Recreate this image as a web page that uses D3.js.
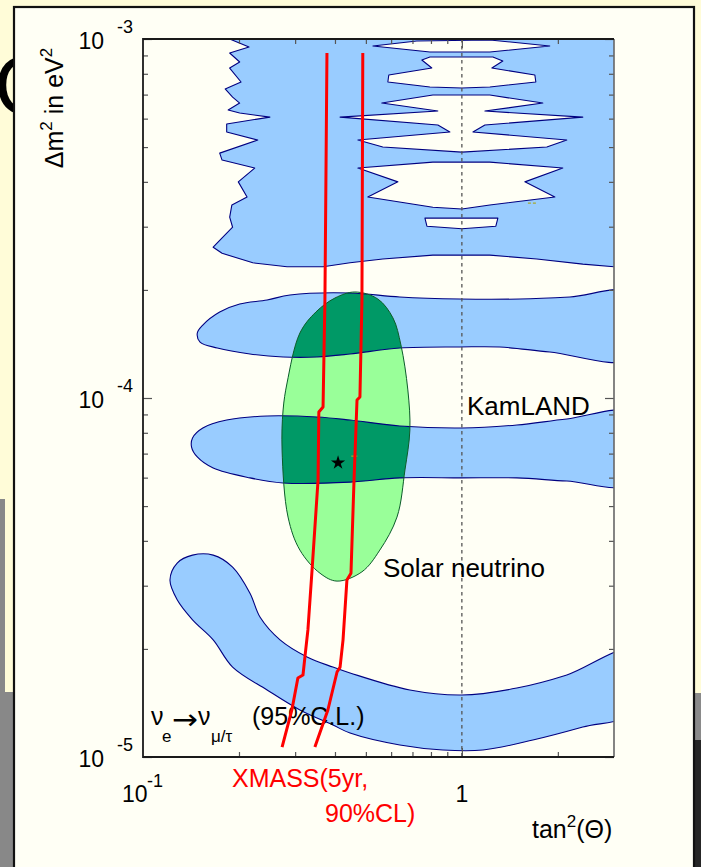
<!DOCTYPE html>
<html><head><meta charset="utf-8">
<script src="https://cdn.jsdelivr.net/npm/d3@7"></script>
<style>
html,body{margin:0;padding:0;background:#FFFCD8;}
svg{display:block;font-family:"Liberation Sans",Arial,sans-serif;}
</style></head><body>
<svg id="chart" width="701" height="867"></svg>
<script>
// ---- axes ----
const tanDomain = [0.1, 3];
const dmDomain = [1e-5, 1e-3];
const xMinorTicks = [0.2, 0.3, 0.4, 0.5, 0.6, 0.7, 0.8, 0.9, 2];
const xMajorTicks = [1];
const yMinorTicks = [2e-5, 3e-5, 4e-5, 5e-5, 6e-5, 7e-5, 8e-5, 9e-5,
                     2e-4, 3e-4, 4e-4, 5e-4, 6e-4, 7e-4, 8e-4, 9e-4];
const yMajorTicks = [1e-5, 1e-4, 1e-3];
const yTickExponents = ["-5", "-4", "-3"];

// ---- KamLAND allowed regions [tan^2, dm^2 (eV^2)] ----
const kamlandUpper = [
  [0.187,1.0e-3],[0.215,9.5e-4],[0.187,9.14e-4],[0.201,8.63e-4],[0.187,8.3e-4],
  [0.203,7.59e-4],[0.181,7.26e-4],[0.191,6.89e-4],[0.201,6.63e-4],[0.185,6.34e-4],
  [0.201,6.22e-4],[0.25,6.06e-4],[0.183,5.8e-4],[0.183,5.51e-4],[0.229,5.23e-4],
  [0.174,4.81e-4],[0.177,4.6e-4],[0.224,4.37e-4],[0.199,4.0e-4],[0.212,3.63e-4],
  [0.19,3.45e-4],[0.187,3.19e-4],[0.191,2.99e-4],[0.174,2.75e-4],[0.166,2.63e-4],
  [0.177,2.53e-4],[0.221,2.38e-4],[0.283,2.32e-4],[0.367,2.32e-4],[0.446,2.38e-4],
  [0.565,2.44e-4],[0.811,2.5e-4],[1.224,2.5e-4],[1.718,2.44e-4],[2.395,2.36e-4],
  [3.0,2.32e-4],[3.4,2.3e-4],[3.4,1.1e-3],[0.187,1.1e-3]
];
const kamlandHole1 = [[0.526,9.56e-4],[0.722,9.87e-4],[1.224,9.94e-4],[1.887,9.56e-4],
  [1.224,9.2e-4],[1.0,9.2e-4],[0.794,9.2e-4]];
const kamlandHole2 = [[0.749,8.74e-4],[0.794,8.91e-4],[1.251,8.91e-4],[1.344,8.68e-4],
  [1.242,8.3e-4],[1.694,7.94e-4],[1.706,7.59e-4],[1.224,7.35e-4],[1.0,7.3e-4],
  [0.794,7.35e-4],[0.586,7.59e-4],[0.59,7.94e-4],[0.805,8.3e-4]];
const kamlandHole3 = [[0.811,6.98e-4],[0.561,6.63e-4],[0.841,6.3e-4],[0.415,6.06e-4],
  [0.841,5.76e-4],[0.917,5.51e-4],[0.472,5.23e-4],[0.565,5.0e-4],[1.0,4.84e-4],
  [1.847,5.0e-4],[2.134,5.23e-4],[1.083,5.51e-4],[1.181,5.76e-4],[2.395,6.06e-4],
  [1.181,6.3e-4],[1.794,6.63e-4],[1.224,6.98e-4]];
const kamlandHole4 = [[0.811,4.54e-4],[1.224,4.54e-4],[2.073,4.37e-4],[1.576,4.0e-4],
  [1.957,3.63e-4],[1.224,3.45e-4],[1.0,3.36e-4],[0.811,3.4e-4],[0.507,3.63e-4],
  [0.63,4.0e-4],[0.472,4.37e-4]];
const kamlandHole5 = [[0.766,3.17e-4],[1.297,3.17e-4],[1.278,3.01e-4],[1.0,2.96e-4],[0.777,3.01e-4]];

const kamlandBand2 = [
  [0.148,1.517e-4],[0.154,1.597e-4],[0.174,1.736e-4],[0.201,1.827e-4],[0.245,1.875e-4],
  [0.289,1.936e-4],[0.446,1.961e-4],[0.639,1.911e-4],[0.986,1.887e-4],[1.52,1.887e-4],
  [2.181,1.911e-4],[3.4,1.96e-4],[3.4,1.29e-4],[1.887,1.343e-4],[1.315,1.387e-4],
  [0.986,1.387e-4],[0.639,1.378e-4],[0.446,1.326e-4],[0.351,1.301e-4],[0.275,1.301e-4],
  [0.2165,1.326e-4],[0.171,1.378e-4],[0.151,1.432e-4]
];
const kamlandBand3 = [
  [0.142,7.3e-5],[0.143,7.74e-5],[0.154,8.25e-5],[0.183,8.68e-5],[0.245,8.91e-5],
  [0.351,8.85e-5],[0.446,8.68e-5],[0.639,8.36e-5],[1.0,8.25e-5],[1.487,8.41e-5],
  [2.134,8.74e-5],[3.4,9.05e-5],[3.4,5.78e-5],[2.134,5.87e-5],[1.487,5.99e-5],
  [1.0,5.99e-5],[0.639,5.99e-5],[0.446,5.83e-5],[0.275,5.8e-5],[0.2165,5.99e-5],
  [0.166,6.38e-5],[0.148,6.85e-5]
];
const kamlandBand4 = [
  [0.1215,3.11e-5],[0.128,3.47e-5],[0.143,3.65e-5],[0.166,3.65e-5],[0.191,3.38e-5],
  [0.2165,2.86e-5],[0.233,2.45e-5],[0.269,2.12e-5],[0.327,1.9e-5],[0.394,1.78e-5],
  [0.446,1.714e-5],[0.687,1.537e-5],[1.0,1.488e-5],[1.487,1.556e-5],[2.134,1.692e-5],
  [3.4,1.98e-5],[3.4,1.33e-5],[2.395,1.212e-5],[1.67,1.115e-5],[1.164,1.046e-5],
  [0.872,1.046e-5],[0.639,1.08e-5],[0.446,1.166e-5],[0.394,1.228e-5],[0.3105,1.352e-5],
  [0.245,1.537e-5],[0.191,1.78e-5],[0.166,2.12e-5],[0.143,2.41e-5],[0.128,2.74e-5]
];

// ---- solar neutrino allowed region ----
const solarRegion = [
  [0.462,1.974e-4],[0.545,1.887e-4],[0.608,1.671e-4],[0.644,1.405e-4],[0.677,1.053e-4],
  [0.687,8.14e-5],[0.663,6.3e-5],[0.626,4.66e-5],[0.553,3.77e-5],[0.486,3.28e-5],
  [0.406,3.09e-5],[0.359,3.25e-5],[0.3105,3.77e-5],[0.285,4.66e-5],[0.273,7.16e-5],
  [0.275,9.26e-5],[0.283,1.101e-4],[0.3105,1.517e-4],[0.3485,1.736e-4],[0.40,1.899e-4]
];

// ---- XMASS (5 yr, 90% CL) sensitivity ----
const xmassLeft = [[0.3775,9.14e-4],[0.372,1.875e-4],[0.367,9.44e-5],[0.356,9.14e-5],
  [0.354,5.91e-5],[0.339,3.32e-5],[0.329,2.26e-5],[0.322,1.9e-5],[0.3175,1.692e-5],
  [0.306,1.66e-5],[0.293,1.352e-5],[0.273,1.066e-5]];
const xmassRight = [[0.489,9.14e-4],[0.486,1.875e-4],[0.479,1.006e-4],[0.469,9.87e-5],
  [0.459,5.91e-5],[0.449,3.25e-5],[0.436,3.11e-5],[0.424,2.12e-5],[0.415,1.78e-5],
  [0.406,1.725e-5],[0.38,1.352e-5],[0.346,1.066e-5]];

const bestFit = [0.409, 6.6e-5];
const fitMarks = [[[0.45,6.89e-5],[0.47,6.89e-5]], [[1.611,3.49e-4],[1.731,3.49e-4]]];

// ---- layout ----
const W = 701, H = 867;
const plot = {left: 143, right: 614, top: 39, bottom: 757};
const x = d3.scaleLog().domain(tanDomain).range([plot.left, plot.right]);
const y = d3.scaleLog().domain(dmDomain).range([plot.bottom, plot.top]);
const svg = d3.select("#chart");

// slide background
svg.append("rect").attr("width", W).attr("height", H).attr("fill", "#FFFCD8");
svg.append("rect").attr("x", 0).attr("y", 499).attr("width", 5).attr("height", 193).attr("fill", "#888");
svg.append("rect").attr("x", 0).attr("y", 692).attr("width", 14).attr("height", 175).attr("fill", "#888");
svg.append("rect").attr("x", 694).attr("y", 693).attr("width", 7).attr("height", 47).attr("fill", "#8a8a8a");
svg.append("rect").attr("x", 694).attr("y", 740).attr("width", 7).attr("height", 127).attr("fill", "#262626");
svg.append("text").attr("x", -6).attr("y", 114).attr("font-size", 84).attr("fill", "#000").text("C");

// figure panel
svg.append("rect").attr("x", 14).attr("y", 7).attr("width", 680).attr("height", 880)
  .attr("fill", "#FFFFF5").attr("stroke", "#111").attr("stroke-width", 2.2);

const defs = svg.append("defs");
defs.append("clipPath").attr("id", "plotClip").append("rect")
  .attr("x", plot.left).attr("y", plot.top)
  .attr("width", plot.right - plot.left).attr("height", plot.bottom - plot.top);

const lin = d3.line().x(d => x(d[0])).y(d => y(d[1]));
const smooth = d3.line().x(d => x(d[0])).y(d => y(d[1])).curve(d3.curveCatmullRomClosed.alpha(0.5));
const solarPath = smooth(solarRegion);
defs.append("clipPath").attr("id", "solarClip").append("path").attr("d", solarPath);

const upperPath = [kamlandUpper, kamlandHole1, kamlandHole2, kamlandHole3, kamlandHole4, kamlandHole5]
  .map(r => lin(r) + "Z").join("");
const kamlandPaths = [upperPath, smooth(kamlandBand2), smooth(kamlandBand3), smooth(kamlandBand4)];

const area = svg.append("g").attr("clip-path", "url(#plotClip)");

function drawKamland(g, fill) {
  g.selectAll("path.kl").data(kamlandPaths).join("path").attr("class", "kl")
    .attr("d", d => d).attr("fill", fill).attr("fill-rule", "evenodd")
    .attr("stroke", "#000080").attr("stroke-width", 1.1).attr("stroke-linejoin", "round");
}
drawKamland(area.append("g"), "#99CCFF");

area.append("path").attr("d", solarPath).attr("fill", "#99FF99");
drawKamland(area.append("g").attr("clip-path", "url(#solarClip)"), "#009966");
area.append("path").attr("d", solarPath).attr("fill", "none")
  .attr("stroke", "#0B5B2A").attr("stroke-width", 1);

// maximal mixing line
area.append("line").attr("x1", x(1)).attr("x2", x(1)).attr("y1", plot.top).attr("y2", plot.bottom)
  .attr("stroke", "#555").attr("stroke-width", 1.3).attr("stroke-dasharray", "3.5,3.5");

// small fit marks
area.selectAll("path.fm").data(fitMarks).join("path").attr("class", "fm")
  .attr("d", d => lin(d)).attr("stroke", "#A8A830").attr("stroke-width", 1.2)
  .attr("stroke-dasharray", "3,2");

// ticks (inward)
function tickAxis(axis, vals, len, tx, ty) {
  const g = svg.append("g").attr("transform", `translate(${tx},${ty})`)
    .call(axis.tickValues(vals).tickSize(-len).tickFormat(""));
  g.select(".domain").remove();
  g.selectAll(".tick line").attr("stroke", "#555").attr("stroke-width", 1.2);
}
tickAxis(d3.axisBottom(x), xMinorTicks, 5, 0, plot.bottom);
tickAxis(d3.axisBottom(x), xMajorTicks, 9, 0, plot.bottom);
tickAxis(d3.axisTop(x), xMinorTicks, 5, 0, plot.top);
tickAxis(d3.axisTop(x), xMajorTicks, 9, 0, plot.top);
tickAxis(d3.axisLeft(y), yMinorTicks, 5, plot.left, 0);
tickAxis(d3.axisLeft(y), yMajorTicks, 9, plot.left, 0);
tickAxis(d3.axisRight(y), yMinorTicks, 5, plot.right, 0);
tickAxis(d3.axisRight(y), yMajorTicks, 9, plot.right, 0);

// frame
svg.append("path").attr("d", `M${plot.right},${plot.top}V${plot.bottom}`)
  .attr("stroke", "#666").attr("stroke-width", 1.6).attr("fill", "none");
svg.append("path").attr("d", `M${plot.right},${plot.top}H${plot.left}V${plot.bottom}H${plot.right}`)
  .attr("stroke", "#1a1a1a").attr("stroke-width", 1.8).attr("fill", "none");

// y tick labels
yMajorTicks.forEach((v, i) => {
  svg.append("text").attr("x", 104).attr("y", y(v) + 10).attr("text-anchor", "end")
    .attr("font-size", 23).text("10");
  svg.append("text").attr("x", 117).attr("y", y(v) - 6).attr("font-size", 18).text(yTickExponents[i]);
});
// x tick labels
svg.append("text").attr("x", x(0.1) - 21).attr("y", 802).attr("font-size", 23).text("10");
svg.append("text").attr("x", x(0.1) + 4).attr("y", 787).attr("font-size", 18).text("-1");
svg.append("text").attr("x", x(1)).attr("y", 802).attr("text-anchor", "middle").attr("font-size", 23).text("1");

// axis titles
const yl = svg.append("text").attr("transform", "translate(63,108) rotate(-90)")
  .attr("text-anchor", "middle").attr("font-size", 25);
yl.append("tspan").text("Δm");
yl.append("tspan").attr("font-size", 17).attr("dy", -11).text("2");
yl.append("tspan").attr("dy", 11).text(" in eV");
yl.append("tspan").attr("font-size", 17).attr("dy", -11).text("2");

const xl = svg.append("text").attr("x", 532).attr("y", 838).attr("font-size", 25);
xl.append("tspan").text("tan");
xl.append("tspan").attr("font-size", 17).attr("dy", -11).text("2");
xl.append("tspan").attr("dy", 11).text("(Θ)");

// region labels
svg.append("text").attr("x", 467).attr("y", 415).attr("font-size", 26).text("KamLAND");
svg.append("text").attr("x", 383).attr("y", 577).attr("font-size", 26).text("Solar neutrino");

// oscillation channel
const ch = svg.append("g").attr("font-size", 25);
ch.append("text").attr("x", 151).attr("y", 725).text("ν");
ch.append("text").attr("x", 162).attr("y", 742).attr("font-size", 17).text("e");
ch.append("text").attr("x", 172).attr("y", 729).attr("font-family", "DejaVu Sans")
  .attr("font-size", 28).attr("textLength", 26).attr("lengthAdjust", "spacingAndGlyphs").text("→");
ch.append("text").attr("x", 198).attr("y", 725).text("ν");
ch.append("text").attr("x", 211).attr("y", 742).attr("font-size", 17).text("μ/τ");
ch.append("text").attr("x", 252).attr("y", 725).text("(95%C.L.)");

// XMASS label
svg.append("text").attr("x", 232).attr("y", 787).attr("font-size", 25).attr("fill", "#FF0000").text("XMASS(5yr,");
svg.append("text").attr("x", 325).attr("y", 822).attr("font-size", 25).attr("fill", "#FF0000").text("90%CL)");

// XMASS curves
svg.selectAll("path.xm").data([xmassLeft, xmassRight]).join("path").attr("class", "xm")
  .attr("d", d => lin(d)).attr("fill", "none").attr("stroke", "#FF0000")
  .attr("stroke-width", 3).attr("stroke-linejoin", "round");

// best fit point
svg.append("path").attr("d", d3.symbol(d3.symbolStar, 62)())
  .attr("transform", `translate(${x(bestFit[0])},${y(bestFit[1])})`).attr("fill", "#000");
</script>
</body></html>
